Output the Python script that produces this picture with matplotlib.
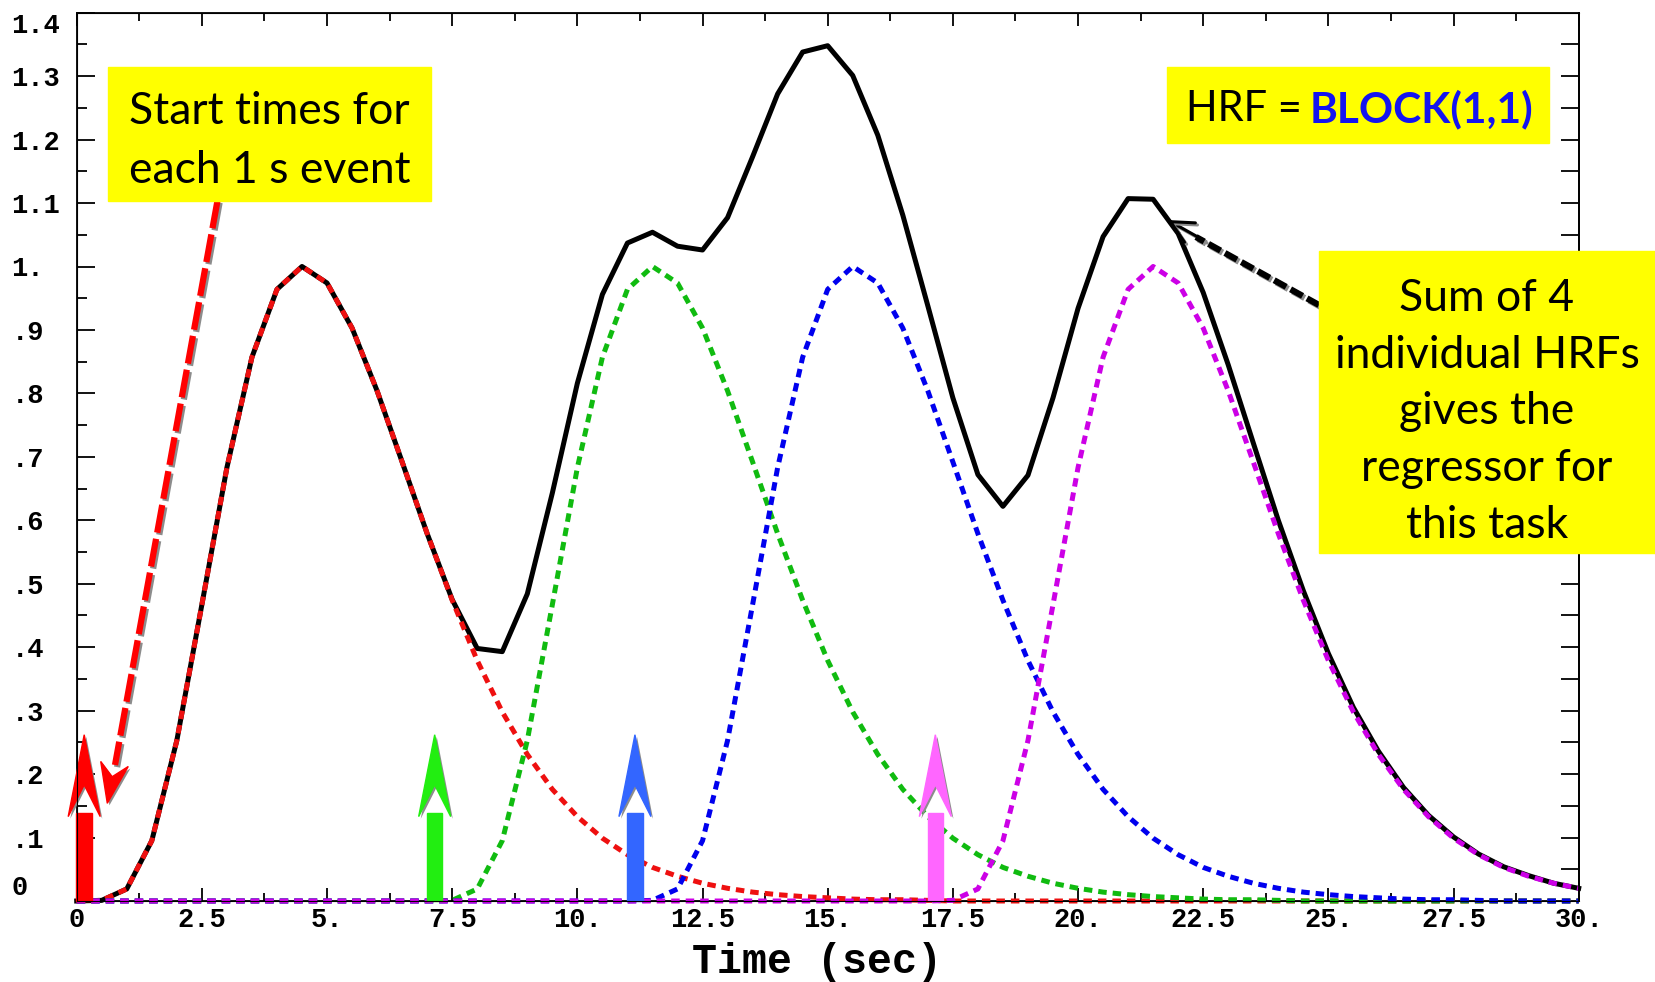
import numpy as np
import matplotlib
matplotlib.use("Agg")
import matplotlib.pyplot as plt
import matplotlib.patches as mpatches
import matplotlib.lines as mlines
import matplotlib.patheffects as pe

# sample grid of the plotted 1D files (0.5 s steps)
time_sec = np.arange(0, 30.5, 0.5)

# BLOCK(1,1) response, 0.5 s steps after the onset
hrf_shape = [0.000, 0.001, 0.019, 0.095, 0.253, 0.467, 0.683, 0.857, 0.964, 1.000,
             0.974, 0.903, 0.804, 0.692, 0.579, 0.474, 0.379, 0.298, 0.231, 0.176,
             0.133, 0.099, 0.073, 0.053, 0.039, 0.028, 0.020, 0.014, 0.010, 0.007,
             0.005, 0.003, 0.002, 0.002, 0.001]

# event start times (s)
onsets = [0.0, 7.0, 11.0, 17.0]

# black curve: sum of the 4 HRFs
regressor_sum = [0.000, 0.001, 0.019, 0.095, 0.253, 0.467, 0.683, 0.857, 0.964, 1.000,
                 0.974, 0.903, 0.804, 0.692, 0.579, 0.475, 0.398, 0.393, 0.484, 0.643,
                 0.816, 0.956, 1.037, 1.054, 1.032, 1.026, 1.077, 1.173, 1.272, 1.338,
                 1.348, 1.301, 1.207, 1.081, 0.938, 0.793, 0.672, 0.622, 0.671, 0.793,
                 0.934, 1.047, 1.107, 1.106, 1.052, 0.959, 0.845, 0.722, 0.600, 0.489,
                 0.390, 0.305, 0.236, 0.179, 0.135, 0.101, 0.074, 0.054, 0.040, 0.028,
                 0.020]

curve_colors = ['#EE1010', '#10BB10', '#0000EE', '#CC00E6']
arrow_colors = ['#FF0000', '#22EE11', '#3366FF', '#FF66FF']

x_ticks = [0, 2.5, 5, 7.5, 10, 12.5, 15, 17.5, 20, 22.5, 25, 27.5, 30]
x_tick_labels = ['0', '2.5', '5.', '7.5', '10.', '12.5', '15.', '17.5', '20.',
                 '22.5', '25.', '27.5', '30.']
y_ticks = [0, 0.1, 0.2, 0.3, 0.4, 0.5, 0.6, 0.7, 0.8, 0.9, 1.0, 1.1, 1.2, 1.3, 1.4]
y_tick_labels = ['0', '.1', '.2', '.3', '.4', '.5', '.6', '.7', '.8', '.9', '1.',
                 '1.1', '1.2', '1.3', '1.4']

W, H = 1656, 982


def px(x, y):
    # picture pixel (from top-left) -> figure fraction
    return x / W, 1 - y / H


def place_hrf(onset):
    y = np.zeros(len(time_sec))
    i0 = int(round(onset / 0.5))
    n = min(len(hrf_shape), len(y) - i0)
    y[i0:i0 + n] = hrf_shape[:n]
    return y


fig = plt.figure(figsize=(W / 100, H / 100), dpi=100)
ax = fig.add_axes([76.7 / W, 81 / H, 1502 / W, 888.3 / H])

ax.plot(time_sec, regressor_sum, color='black', lw=3.6, zorder=3, clip_on=False)
for onset, col in zip(onsets, curve_colors):
    ax.plot(time_sec, place_hrf(onset), color=col, lw=3.6, dashes=(1.7, 1.2),
            zorder=4, clip_on=False)

ax.set_xlim(0, 30)
ax.set_ylim(0, 1.4)

tick_font = dict(family='Liberation Mono', weight='bold', size=19.5)
ax.set_xticks(x_ticks)
ax.set_xticklabels(x_tick_labels, fontdict=tick_font)
ax.set_xticks(np.arange(1.25, 30, 2.5), minor=True)
ax.set_yticks(y_ticks)
ax.set_yticklabels(y_tick_labels, fontdict=tick_font)
ax.set_yticks(np.arange(0.05, 1.4, 0.1), minor=True)
for lab in ax.get_yticklabels():
    lab.set_horizontalalignment('left')
ax.get_yticklabels()[0].set_verticalalignment('bottom')
ax.get_yticklabels()[-1].set_verticalalignment('top')

ax.tick_params(axis='x', which='major', direction='in', length=9.4, width=1.3,
               top=True, pad=4)
ax.tick_params(axis='x', which='minor', direction='in', length=5.8, width=1.3, top=True)
ax.tick_params(axis='y', which='major', direction='in', length=13, width=1.3,
               right=False, pad=47)
ax.tick_params(axis='y', which='minor', direction='in', length=7.2, width=1.3, right=False)
for sp in ax.spines.values():
    sp.set_linewidth(1.3)

# right side ticks: all the same length every 0.05
ax_r = ax.twinx()
ax_r.set_ylim(0, 1.4)
ax_r.set_yticks(np.arange(0.05, 1.4, 0.05))
ax_r.tick_params(axis='y', direction='in', length=13, width=1.3, labelright=False)
ax_r.spines['right'].set_linewidth(1.3)

fig.text(*px(817, 962), 'Time (sec)', family='Liberation Mono', weight='bold',
         size=30, ha='center', va='center')

# event arrows at the start times
shadow_patch = [pe.SimplePatchShadow(offset=(1.5, -1.5), shadow_rgbFace='0.55', alpha=1),
                pe.Normal()]
for onset, col in zip(onsets, arrow_colors):
    c = onset + 0.15
    ax.add_patch(mpatches.Rectangle((c - 0.155, 0), 0.31, 0.139, color=col,
                                    zorder=8, clip_on=False))
    head = mpatches.Polygon([(c, 0.262), (c + 0.32, 0.133), (c, 0.183), (c - 0.32, 0.133)],
                            closed=True, color=col, zorder=8, clip_on=False)
    head.set_path_effects(shadow_patch)
    ax.add_patch(head)


# yellow note boxes
def yellow_box(x0, y0, x1, y1):
    fx0, fy1 = px(x0, y0)
    fx1, fy0 = px(x1, y1)
    fig.add_artist(mpatches.Rectangle((fx0, fy0), fx1 - fx0, fy1 - fy0,
                                      transform=fig.transFigure, color='#FFFF00',
                                      zorder=10))


note_font = dict(family='Lato', size=32, zorder=11)

yellow_box(108, 66.5, 431, 200.6)
fig.text(*px(269.5, 141), 'Start times for\neach 1 s event', ha='center', va='center',
         linespacing=1.52, **note_font)

yellow_box(1167, 66.5, 1549, 142.6)
fig.text(*px(1186, 109), 'HRF =', ha='left', va='center', family='Lato', size=30,
         zorder=11)
fig.text(*px(1310, 109), 'BLOCK(1,1)', ha='left', va='center', color='#1414F0',
         weight='bold', family='Lato', size=30.5, zorder=11)

yellow_box(1319, 251, 1660, 553)
fig.text(*px(1487, 412), 'Sum of 4\nindividual HRFs\ngives the\nregressor for\nthis task',
         ha='center', va='center', linespacing=1.48, **note_font)

# red dashed pointer to the event starts
line_shadow = [pe.SimpleLineShadow(offset=(1.5, -1.5), shadow_color='0.55', alpha=1),
               pe.Normal()]
x0, y0 = px(217.5, 200.6)
x1, y1 = px(115, 765)
red_line = mlines.Line2D([x0, x1], [y0, y1], transform=fig.transFigure, color='#FF0000',
                         lw=4.5, dashes=(4.5, 1.0), zorder=9)
red_line.set_path_effects(line_shadow)
fig.add_artist(red_line)

tip = np.array([107.3, 803.3])
u = np.array([-110.2, 602.7])
u = u / np.hypot(*u)
n = np.array([u[1], -u[0]])
pts = [tip, tip - 40 * u + 14 * n, tip - 27 * u, tip - 40 * u - 14 * n]
red_head = mpatches.Polygon([px(*p) for p in pts], closed=True, transform=fig.transFigure,
                            color='#FF0000', zorder=9)
red_head.set_path_effects(shadow_patch)
fig.add_artist(red_head)

# black dashed pointer to the summed curve
x0, y0 = px(1319, 305)
x1, y1 = px(1196, 237)
blk_line = mlines.Line2D([x0, x1], [y0, y1], transform=fig.transFigure, color='black',
                         lw=4.5, dashes=(2.2, 0.8), zorder=9)
blk_line.set_path_effects(line_shadow)
fig.add_artist(blk_line)
ann = ax.annotate('', xy=(1167.6, H - 220), xycoords='figure pixels',
                  xytext=(1205, H - 241), textcoords='figure pixels',
                  arrowprops=dict(arrowstyle='->,head_length=1.6,head_width=0.8',
                                  color='black', lw=2.2, shrinkA=0, shrinkB=0),
                  zorder=9)
ann.arrow_patch.set_path_effects(line_shadow)

fig.savefig('out.png', dpi=100)
